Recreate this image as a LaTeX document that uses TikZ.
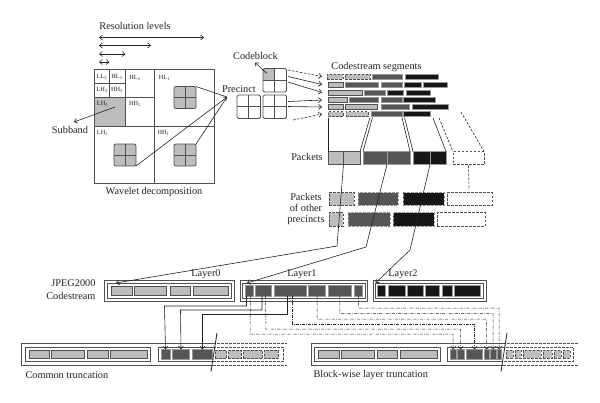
\documentclass[tikz,border=0pt]{standalone}
\usepackage{fontspec}
\setmainfont{Liberation Serif}
\usetikzlibrary{arrows.meta}
\definecolor{lg}{HTML}{BDBDBD}
\definecolor{dg}{HTML}{555555}
\definecolor{bk}{HTML}{161616}
\definecolor{ink}{HTML}{222222}
\definecolor{edge}{HTML}{505050}
\newcommand\bx[6]{\node[#1,anchor=north west,inner sep=0pt,outer sep=0pt,minimum width={(#4-#2)*1pt},minimum height={(#5-#3)*1pt}] (#6) at (#2,#3) {};}
\begin{document}
\begin{tikzpicture}[x=1pt,y=-1pt,
  font=\fontsize{10.3}{12}\selectfont, text=ink,
  >={Straight Barb[length=3pt,width=5pt]},
  conn/.style={draw=ink,line width=0.6pt},
  box/.style={draw=edge,line width=0.8pt},
  lgS/.style={draw=edge,fill=lg,line width=0.6pt},
  dgS/.style={draw=gray!80,fill=dg,line width=0.6pt},
  bkS/.style={draw=gray!80,fill=bk,line width=0.6pt},
  dsh/.style={dash pattern=on 2.5pt off 1.5pt},
  dLg/.style={lgS,dsh},
  dDg/.style={dgS,dsh},
  dBk/.style={bkS,dsh},
  dEm/.style={draw=edge,line width=0.7pt,dsh},
  ddot/.style={draw=ink,line width=0.5pt,dash pattern=on 3pt off 1.3pt on 0.7pt off 1.3pt},
  sub/.style={font=\fontsize{6.3}{7}\selectfont},
  icon/.style={draw=edge,fill=lg,line width=0.8pt,rounded corners=2pt,
    path picture={\draw[edge,line width=0.8pt] (path picture bounding box.north) -- (path picture bounding box.south) (path picture bounding box.west) -- (path picture bounding box.east);}},
  cb/.style={draw=edge,line width=0.8pt,rounded corners=1.5pt,
    path picture={\draw[edge,line width=0.8pt] (path picture bounding box.north) -- (path picture bounding box.south) (path picture bounding box.west) -- (path picture bounding box.east);}},
  cbG/.style={draw=edge,line width=0.8pt,rounded corners=1.5pt,
    path picture={\fill[lg] (path picture bounding box.north west) rectangle (path picture bounding box.center);
      \draw[edge,line width=0.8pt] (path picture bounding box.north) -- (path picture bounding box.south) (path picture bounding box.west) -- (path picture bounding box.east);}},
  pk/.style={line width=0.8pt}
]
\useasboundingbox (0,0) rectangle (600,402);

% ---------- Resolution levels ----------
\node (reslbl) at (135,26) {Resolution levels};
\coordinate (ra1) at (99,37.5);  \coordinate (rb1) at (204,37.5);
\coordinate (ra2) at (99,45.5);  \coordinate (rb2) at (151,45.5);
\coordinate (ra3) at (99,54);    \coordinate (rb3) at (125.5,54);
\coordinate (ra4) at (99,62);    \coordinate (rb4) at (109.5,62);
\draw[conn,<->] (ra1) -- (rb1);
\draw[conn,<->] (ra2) -- (rb2);
\draw[conn,<->] (ra3) -- (rb3);
\draw[conn,<->] (ra4) -- (rb4);

% ---------- Wavelet square ----------
\fill[lg] (94,97) rectangle (125,126);
\bx{box}{94}{69}{214}{183}{wav}
\draw[box] (154,69) -- (154,183) (94,126) -- (214,126) (125,69) -- (125,126)
  (94,97) -- (154,97) (109.5,69) -- (109.5,97) (94,83) -- (125,83);
\node[sub] (tLL3) at (102,77) {LL\textsubscript{3}};
\node[sub] (tHL3) at (117,77) {HL\textsubscript{3}};
\node[sub] (tLH3) at (102,89.5) {LH\textsubscript{3}};
\node[sub] (tHH3) at (117,89.5) {HH\textsubscript{3}};
\node[sub] (tHL2) at (135,78) {HL\textsubscript{2}};
\node[sub] (tHL1) at (164.5,77.5) {HL\textsubscript{1}};
\node[sub] (tLH2) at (102.5,103.5) {LH\textsubscript{2}};
\node[sub] (tHH2) at (135,103.5) {HH\textsubscript{2}};
\node[sub] (tLH1) at (102.5,132.5) {LH\textsubscript{1}};
\node[sub] (tHH1) at (163.5,132.5) {HH\textsubscript{1}};
\bx{icon}{174}{86.5}{196}{108.5}{pHL}
\bx{icon}{114}{144}{136}{166}{pLH}
\bx{icon}{174}{144}{196}{166}{pHH}
\node (wavlbl) at (154,192) {Wavelet decomposition};

\node (subbandlbl) at (70,129.5) {Subband};
\coordinate (sbs) at (115,107); \coordinate (sbt) at (74,122);
\draw[conn,->] (sbs) -- (sbt);

\node[anchor=west] (preclbl) at (218.5,89) {Precinct};
\coordinate (ptip) at (227,97);
\draw[conn] (pHL.north east) -- (ptip);
\draw[conn] (pHH.north east) -- (ptip);
\draw[conn,->] (pLH.south east) -- (ptip);

% ---------- Codeblocks ----------
\node (cblbl) at (255.5,55.5) {Codeblock};
\bx{cbG}{263}{68.5}{286.5}{92}{cbT}
\bx{cb}{237}{95}{260.5}{118.5}{cbL}
\bx{cb}{263}{95}{286.5}{118.5}{cbR}
\coordinate (cbs) at (267,73.5); \coordinate (cbe) at (255,62.5);
\draw[conn,->] (cbs) -- (cbe);

\coordinate (a1s) at (288,70);    \coordinate (a1e) at (322,76.5);
\coordinate (a2s) at (288,76.5);  \coordinate (a2e) at (322,84.5);
\coordinate (a3s) at (288,82);    \coordinate (a3e) at (322,92.5);
\coordinate (a4s) at (288,101.5); \coordinate (a4e) at (322,100);
\coordinate (a5s) at (288,106.5); \coordinate (a5e) at (322,107);
\coordinate (a6s) at (293,120);   \coordinate (a6e) at (322,114);
\draw[conn,->,dsh] (a1s) -- (a1e);
\draw[conn,->] (a2s) -- (a2e);
\draw[conn,->] (a3s) -- (a3e);
\draw[conn,->] (a4s) -- (a4e);
\draw[conn,->] (a5s) -- (a5e);
\draw[conn,->,dsh] (a6s) -- (a6e);

% ---------- Codestream segments ----------
\node (seglbl) at (376.5,67.5) {Codestream segments};
% row 1
\bx{dLg}{327}{74}{343}{79}{s11} \bx{dLg}{345}{74}{370}{79}{s12}
\bx{dgS}{372}{74}{402}{79}{s13} \bx{bkS}{405}{74}{438}{79}{s14}
% row 2
\bx{lgS}{328}{82}{343}{87}{s21} \bx{dgS}{345}{82}{378}{87}{s22}
\bx{dgS}{381}{82}{402}{87}{s23} \bx{bkS}{404}{82}{421}{87}{s24}
\bx{bkS}{423}{82}{447}{87}{s25}
% row 3
\bx{lgS}{328}{90}{362}{95}{s31} \bx{dgS}{364}{90}{385}{95}{s32}
\bx{bkS}{387}{90}{403}{95}{s33} \bx{bkS}{406}{90}{430}{95}{s34}
% row 4
\bx{lgS}{328}{97.5}{347}{102.5}{s41} \bx{dgS}{349}{97.5}{378}{102.5}{s42}
\bx{dgS}{381}{97.5}{402}{102.5}{s43} \bx{bkS}{403}{97.5}{435}{102.5}{s44}
% row 5
\bx{lgS}{328}{104.5}{343}{109.5}{s51} \bx{lgS}{345}{104.5}{377}{109.5}{s52}
\bx{dgS}{381}{104.5}{409}{109.5}{s53} \bx{bkS}{412}{104.5}{448}{109.5}{s54}
% row 6
\bx{dLg}{328}{111.5}{343}{116.5}{s61} \bx{dLg}{346}{111.5}{368}{116.5}{s62}
\bx{dgS}{371}{111.5}{402}{116.5}{s63} \bx{bkS}{403}{111.5}{430}{116.5}{s64}

% ---------- Packets ----------
\node (pklbl) at (307,157) {Packets};
\bx{lgS,pk}{328}{151.5}{360}{164.5}{pkL}
\bx{dgS,pk}{363}{151.5}{410}{164.5}{pkD}
\bx{bkS,pk}{413}{151.5}{446}{164.5}{pkB}
\bx{dEm}{453}{151.5}{484}{164.5}{pkE}
\draw[edge,line width=0.5pt] (343.5,151.5) -- (343.5,164.5);
\draw[gray!80,line width=0.5pt] (387,151.5) -- (387,164.5) (430,151.5) -- (430,164.5);

\coordinate (f1) at (328,117.5);
\coordinate (f2) at (370,117.5);
\coordinate (f3) at (372.5,117.5);
\coordinate (f4) at (402,117.5);
\coordinate (f5) at (404.5,117.5);
\coordinate (f6) at (433,118);
\coordinate (f7) at (439,118);
\coordinate (f8) at (461,112);
\draw[conn] (f1) -- (pkL.north west);
\draw[conn] (f2) -- (pkL.north east);
\draw[conn] (f3) -- (pkD.north west);
\draw[conn] (f4) -- (pkD.north east);
\draw[conn] (f5) -- (pkB.north west);
\draw[conn] (f6) -- (pkB.north east);
\draw[conn,dsh] (f7) -- (pkE.north west);
\draw[conn,dsh] (f8) -- (pkE.north east);
\coordinate (vd) at (469,190);
\draw[edge,line width=0.7pt,dsh] (pkE.south) ++(0,1) -- (vd);

% ---------- Packets of other precincts ----------
\node[align=center,font=\fontsize{10.3}{11}\selectfont] (otherlbl) at (306,209) {Packets\\of other\\precincts};
\bx{dLg}{329}{192.5}{354}{205}{oA1} \bx{dDg}{358}{192.5}{398}{205}{oA2}
\bx{dBk}{403}{192.5}{444}{205}{oA3} \bx{dEm}{447}{192.5}{492}{205}{oA4}
\bx{dLg}{329}{212.5}{343}{226}{oB1} \bx{dDg}{348}{212.5}{390}{226}{oB2}
\bx{dBk}{393}{212.5}{434}{226}{oB3} \bx{dEm}{437}{212.5}{485}{226}{oB4}

% ---------- Layers ----------
\node[align=right,anchor=east,font=\fontsize{10.3}{13.5}\selectfont] (jplbl) at (99,289.5) {JPEG2000\\Codestream};
% Layer0
\bx{box}{104}{280}{234}{301.5}{L0o}
\bx{box}{107}{283}{231}{298.5}{L0i}
\bx{lgS}{111}{286.5}{132}{295.5}{L0a}
\bx{lgS}{134.5}{286.5}{166.5}{295.5}{L0b}
\bx{lgS}{170}{286.5}{190.5}{295.5}{L0c}
\bx{lgS}{193.5}{286.5}{228.5}{295.5}{L0d}
\node (l0lbl) at (206,274.5) {Layer0};
% Layer1
\bx{box}{240.5}{280.5}{367}{301}{L1o}
\bx{box}{242.5}{283}{365}{298.5}{L1i}
\bx{dgS}{245}{285.5}{253.5}{296}{L1a}
\bx{dgS}{255.5}{285.5}{271.5}{296}{L1b}
\bx{dgS}{274}{285.5}{306}{296}{L1c}
\bx{dgS}{308.5}{285.5}{325.5}{296}{L1d}
\bx{dgS}{328}{285.5}{351.5}{296}{L1e}
\bx{dgS}{354}{285.5}{362.5}{296}{L1f}
\node (l1lbl) at (302,274.5) {Layer1};
% Layer2
\bx{box}{373}{280.5}{486}{301}{L2o}
\bx{box}{375.5}{283}{483.5}{298.5}{L2i}
\bx{bkS}{377.5}{285.5}{385.5}{296}{L2a}
\bx{bkS}{388}{285.5}{405}{296}{L2b}
\bx{bkS}{407}{285.5}{423}{296}{L2c}
\bx{bkS}{425}{285.5}{439.5}{296}{L2d}
\bx{bkS}{442}{285.5}{452}{296}{L2e}
\bx{bkS}{454}{285.5}{480.5}{296}{L2f}
\node (l2lbl) at (403,274.5) {Layer2};

% packets -> layers
\coordinate (bL) at (337,246); \coordinate (tL) at (116,283);
\coordinate (bD) at (366,247); \coordinate (tD) at (247,283);
\coordinate (bB) at (410,250); \coordinate (tB) at (375.5,283);
\coordinate (sL) at (343.5,164.5); \coordinate (sD) at (387,164.5); \coordinate (sB) at (430,164.5);
\draw[conn,->] (sL) -- (bL) -- (tL);
\draw[conn,->] (sD) -- (bD) -- (tD);
\draw[conn,->] (sB) -- (bB) -- (tB);

% ---------- Common truncation ----------
\draw[box] (213,343) -- (21,343) -- (21,365.5) -- (213,365.5);
\draw[box,dsh] (213,343) -- (287,343) (213,365.5) -- (287,365.5);
\bx{box}{25}{347}{150}{361.5}{C0}
\bx{lgS}{29.5}{350}{49.5}{358.5}{C0a}
\bx{lgS}{51.5}{350}{84}{358.5}{C0b}
\bx{lgS}{87.5}{350}{108.5}{358.5}{C0c}
\bx{lgS}{110.5}{350}{147}{358.5}{C0d}
\draw[box] (213,347) -- (158,347) -- (158,361.5) -- (213,361.5);
\draw[box,dsh] (213,347) -- (283,347) -- (283,361.5) -- (213,361.5);
\bx{dgS}{161}{349.5}{170}{359}{C1a}
\bx{dgS}{172.5}{349.5}{189.5}{359}{C1b}
\bx{dgS}{192.5}{349.5}{212.5}{359}{C1c}
\bx{dLg}{215}{350}{226}{358.5}{C2a}
\bx{dLg}{228}{350}{241}{358.5}{C2b}
\bx{dLg}{243}{350}{262}{358.5}{C2c}
\bx{dLg}{264}{350}{278}{358.5}{C2d}
\coordinate (ct1) at (217,333); \coordinate (ct2) at (211,371.5);
\draw[conn,line width=0.8pt] (ct1) -- (ct2);
\node[anchor=west] (comlbl) at (22,375) {Common truncation};

\coordinate (cA1) at (246.5,306); \coordinate (cA2) at (164.5,306);
\coordinate (cB1) at (262,310);   \coordinate (cB2) at (180.5,310);
\coordinate (cC1) at (287,314);   \coordinate (cC2) at (202.5,314);
\draw[conn,->] (L1a.south west) ++(1.5,0) -- (cA1) -- (cA2) -- (C1a.north);
\draw[conn,->] (L1b.south) ++(-1.5,0) -- (cB1) -- (cB2) -- (C1b.north);
\draw[conn,->] (L1c.south) ++(-3,0) -- (cC1) -- (cC2) -- (C1c.north);

% ---------- Block-wise layer truncation ----------
\draw[box] (503,343) -- (311,343) -- (311,365.5) -- (503,365.5);
\draw[box,dsh] (503,343) -- (579,343) (503,365.5) -- (579,365.5);
\bx{box}{314.5}{347}{440.5}{361.5}{B0}
\bx{lgS}{318.5}{350}{339.5}{358.5}{B0a}
\bx{lgS}{341.5}{350}{374}{358.5}{B0b}
\bx{lgS}{377.5}{350}{397.5}{358.5}{B0c}
\bx{lgS}{400.5}{350}{437}{358.5}{B0d}
\draw[box] (502,347) -- (447.5,347) -- (447.5,361.5) -- (502,361.5);
\draw[box,dsh] (502,347) -- (573,347) -- (573,361.5) -- (502,361.5);
\bx{dgS}{450}{349.5}{456.5}{359}{B1a}
\bx{dgS}{457.5}{349.5}{464}{359}{B1b}
\bx{dgS}{466.5}{349.5}{482.5}{359}{B1c}
\bx{dgS}{484}{349.5}{489.5}{359}{B1d}
\bx{dgS}{490.5}{349.5}{496}{359}{B1e}
\bx{dgS}{497.5}{349.5}{501}{359}{B1f}
\bx{dLg}{506}{350}{513}{358}{B2a}
\bx{dLg}{515}{350}{521}{358}{B2b}
\bx{dLg}{523}{350}{541}{358}{B2c}
\bx{dLg}{543}{350}{552}{358}{B2d}
\bx{dLg}{554}{350}{561}{358}{B2e}
\bx{dLg}{563}{350}{570}{358}{B2f}
\coordinate (bt1) at (507,333); \coordinate (bt2) at (501,371.5);
\draw[conn,line width=0.8pt] (bt1) -- (bt2);
\node[anchor=west] (bwlbl) at (310,375) {Block-wise layer truncation};

\coordinate (dA1) at (250,334);   \coordinate (dA2) at (453,334);
\coordinate (dB1) at (266,329);   \coordinate (dB2) at (460.5,329);
\coordinate (dC1) at (292,324);   \coordinate (dC2) at (474.5,324);
\coordinate (dD1) at (317,319);   \coordinate (dD2) at (486.5,319);
\coordinate (dE1) at (340,313.5); \coordinate (dE2) at (493,313.5);
\coordinate (dF1) at (358.5,308); \coordinate (dF2) at (499,308);
\draw[ddot,->] (L1a.south east) ++(-3,0) -- (dA1) -- (dA2) -- (B1a.north);
\draw[ddot,->] (L1b.south) ++(2,0) -- (dB1) -- (dB2) -- (B1b.north);
\draw[ddot,->] (L1c.south) ++(2,0) -- (dC1) -- (dC2) -- (B1c.north);
\draw[ddot,->] (L1d.south) -- (dD1) -- (dD2) -- (B1d.north);
\draw[ddot,->] (L1e.south) -- (dE1) -- (dE2) -- (B1e.north);
\draw[ddot,->] (L1f.south) -- (dF1) -- (dF2) -- (B1f.north);
\end{tikzpicture}
\end{document}
